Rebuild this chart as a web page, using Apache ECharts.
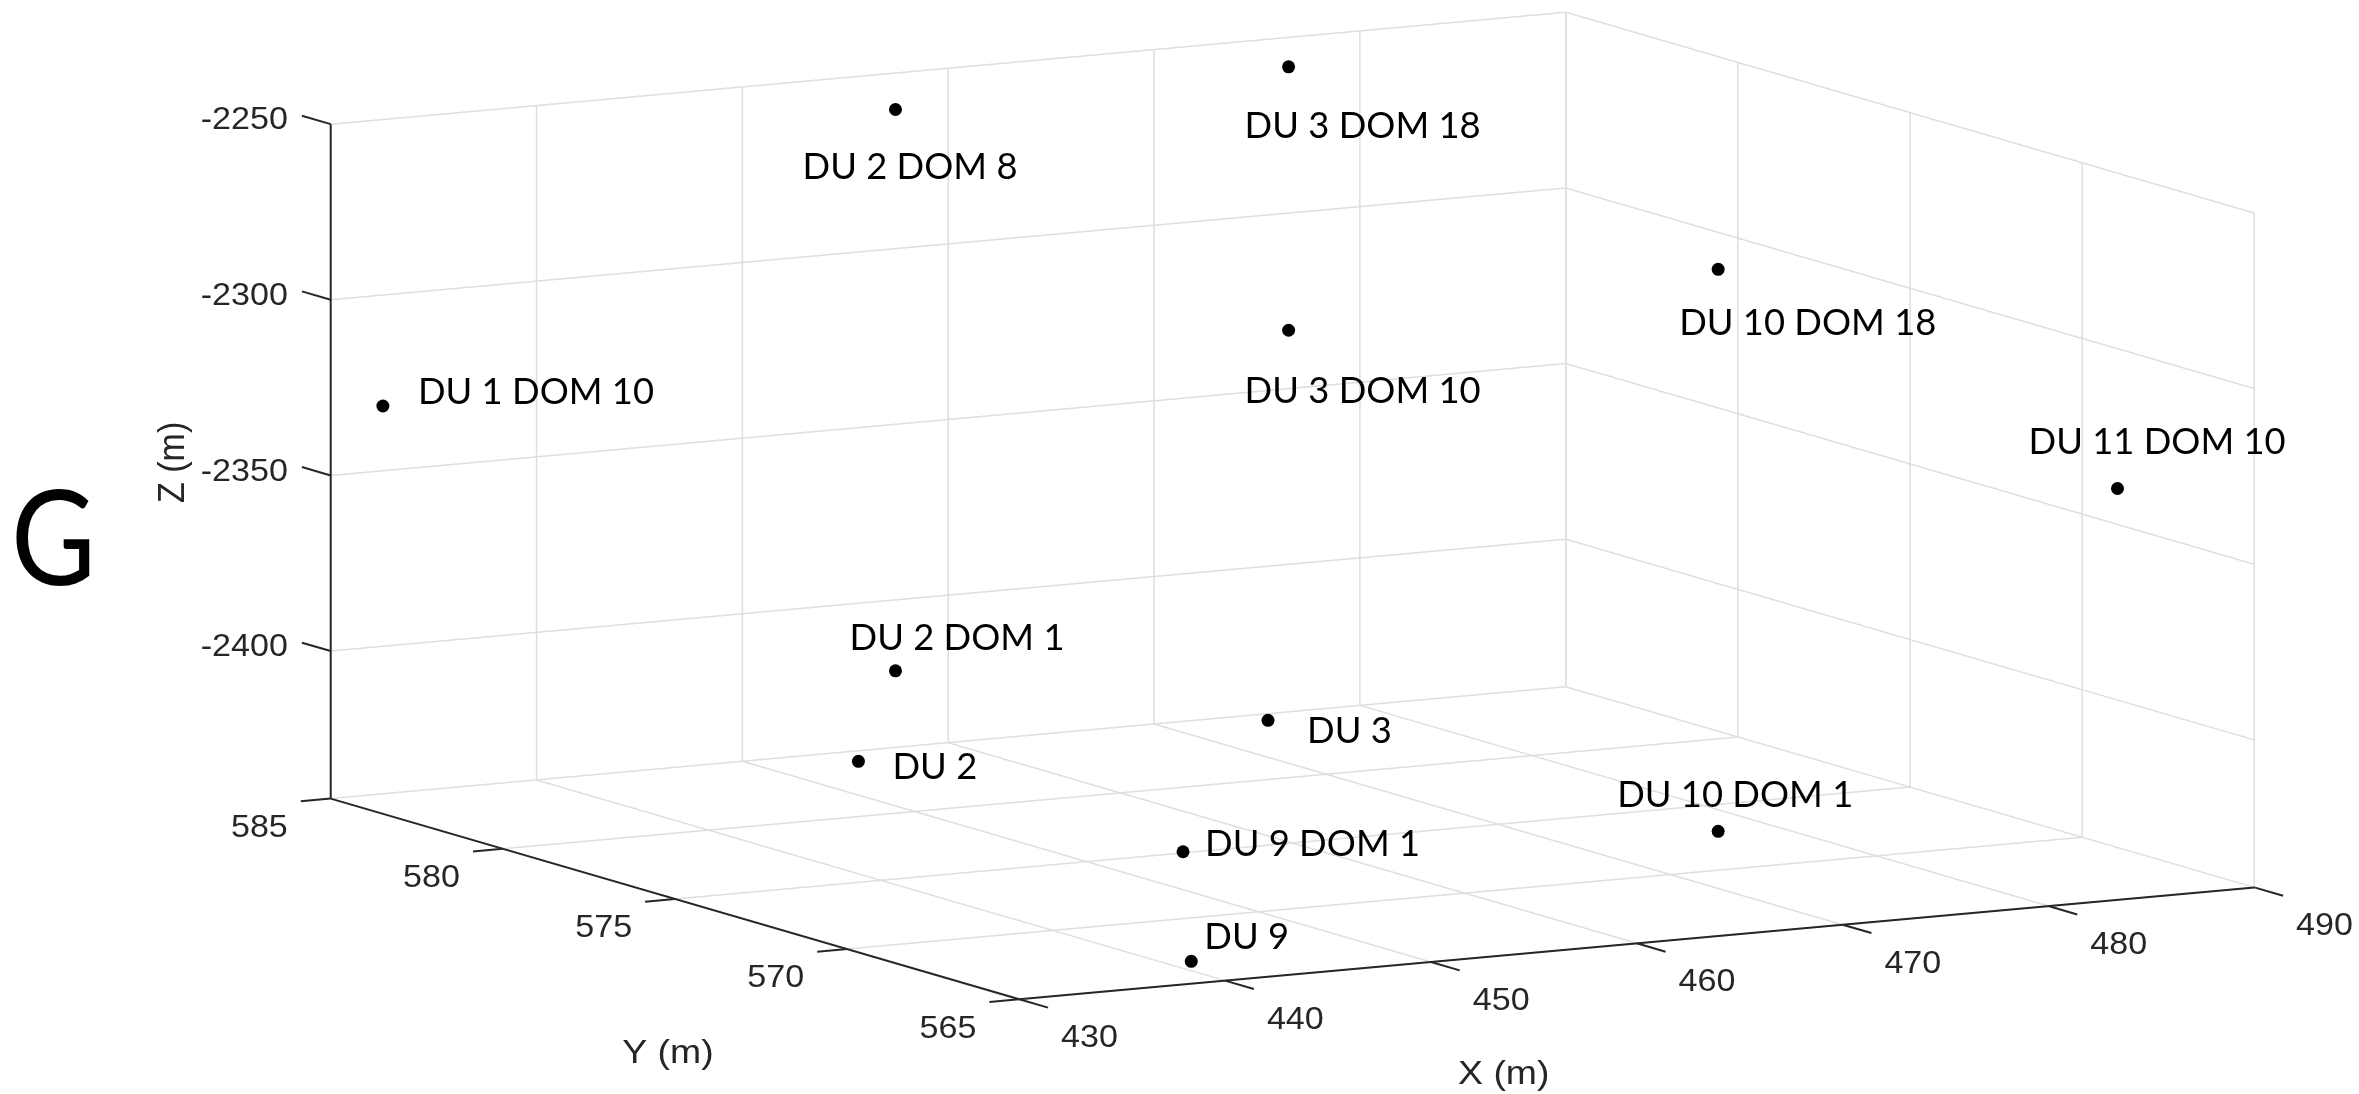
<!DOCTYPE html>
<html>
<head>
<meta charset="utf-8">
<script src="https://cdn.jsdelivr.net/npm/echarts@6/dist/echarts.min.js"></script>
<style>
  html, body { margin: 0; padding: 0; background: #ffffff; }
  #chart { width: 2359px; height: 1094px; }
</style>
</head>
<body>
<div id="chart"></div>
<script>
// Axis limits (metres)
const xLimits = [430, 490];
const yLimits = [565, 585];
const zLimits = [-2442, -2250];

// Tick values
const xTicks = [430, 440, 450, 460, 470, 480, 490];
const yTicks = [565, 570, 575, 580, 585];
const zTicks = [-2400, -2350, -2300, -2250];

// Optical module / DU base positions
const moduleNames = ['DU 1 DOM 10', 'DU 2 DOM 8', 'DU 3 DOM 18', 'DU 3 DOM 10', 'DU 10 DOM 18', 'DU 11 DOM 10',
                     'DU 2 DOM 1', 'DU 2', 'DU 3', 'DU 9 DOM 1', 'DU 9', 'DU 10 DOM 1'];
const moduleX = [431.7, 456.1, 475.7, 475.7, 467.3, 486.7, 456.1, 454.3, 474.7, 440.8, 441.2, 467.3];
const moduleY = [584.5, 584.2, 584.5, 584.5, 567.0, 567.0, 584.2, 584.2, 584.5, 566.7, 566.7, 567.0];
const moduleZ = [-2329.7, -2257.4, -2256.5, -2331.5, -2259.7, -2332.4, -2417.2, -2442.0, -2442.0, -2410.6, -2442.0, -2419.7];

// Label placement relative to each marker (pixels: left edge, vertical centre)
const labelOffsets = [[35, -14], [-93, 58], [-44, 60], [-44, 61], [-39, 54], [-89, -46],
                      [-46, -32], [34, 6], [39, 11], [22, -7], [13, -24], [-101, -36]];

// Orthographic 3-D view
const DEG = Math.PI / 180;
const view = { azimuth: 29.14, elevation: 9.35, boxAspect: [1, 1, 0.4834] };

function project(x, y, z) {
  const nx = (x - xLimits[0]) / (xLimits[1] - xLimits[0]) * view.boxAspect[0];
  const ny = (y - yLimits[0]) / (yLimits[1] - yLimits[0]) * view.boxAspect[1];
  const nz = (z - zLimits[0]) / (zLimits[1] - zLimits[0]) * view.boxAspect[2];
  const a = view.azimuth * DEG, e = view.elevation * DEG;
  return [
    nx * Math.cos(a) - ny * Math.sin(a),
    (nx * Math.sin(a) + ny * Math.cos(a)) * Math.sin(e) + nz * Math.cos(e)
  ];
}

// Extent of the projected box on the view plane
const corners = [];
xLimits.forEach(x => yLimits.forEach(y => zLimits.forEach(z => corners.push(project(x, y, z)))));
const uMin = Math.min(...corners.map(c => c[0])), uMax = Math.max(...corners.map(c => c[0]));
const vMin = Math.min(...corners.map(c => c[1])), vMax = Math.max(...corners.map(c => c[1]));
const pxPerUnit = 1414;

const GRID_COLOR = '#dedede';
const AXIS_COLOR = '#262626';
const TICK_LEN = 30;
const TICK_FONT = 'Liberation Sans, Arial, Helvetica, sans-serif';
const LABEL_FONT = 'Lato, Calibri, sans-serif';

function lineEl(a, b, color, width) {
  return { type: 'line', shape: { x1: a[0], y1: a[1], x2: b[0], y2: b[1] },
           style: { stroke: color, lineWidth: width } };
}
function textEl(p, text, align, opts) {
  return Object.assign({ type: 'text', x: p[0], y: p[1], scaleX: 1.1,
    style: { text: text, fill: AXIS_COLOR, fontSize: 31, fontFamily: TICK_FONT,
             align: align, verticalAlign: 'middle' } }, opts || {});
}
function tickEnd(base, toward) {
  const dx = toward[0] - base[0], dy = toward[1] - base[1];
  const n = Math.hypot(dx, dy);
  return [base[0] + dx / n * TICK_LEN, base[1] + dy / n * TICK_LEN];
}

// Grid lines on the back wall, side wall and floor
function renderGrid(params, api) {
  const P = (x, y, z) => api.coord(project(x, y, z));
  const [x0, x1] = xLimits, [y0, y1] = yLimits, [z0, z1] = zLimits;
  const ch = [];
  xTicks.forEach(xv => {
    ch.push(lineEl(P(xv, y1, z0), P(xv, y1, z1), GRID_COLOR, 1.5));
    ch.push(lineEl(P(xv, y0, z0), P(xv, y1, z0), GRID_COLOR, 1.5));
  });
  yTicks.forEach(yv => {
    ch.push(lineEl(P(x1, yv, z0), P(x1, yv, z1), GRID_COLOR, 1.5));
    ch.push(lineEl(P(x0, yv, z0), P(x1, yv, z0), GRID_COLOR, 1.5));
  });
  zTicks.forEach(zv => {
    ch.push(lineEl(P(x0, y1, zv), P(x1, y1, zv), GRID_COLOR, 1.5));
    ch.push(lineEl(P(x1, y0, zv), P(x1, y1, zv), GRID_COLOR, 1.5));
  });
  return { type: 'group', children: ch };
}

// Axis lines, ticks, tick labels and axis titles
function renderAxes(params, api) {
  const P = (x, y, z) => api.coord(project(x, y, z));
  const [x0, x1] = xLimits, [y0, y1] = yLimits, [z0, z1] = zLimits;
  const ch = [];
  ch.push(lineEl(P(x0, y0, z0), P(x1, y0, z0), AXIS_COLOR, 2));
  ch.push(lineEl(P(x0, y0, z0), P(x0, y1, z0), AXIS_COLOR, 2));
  ch.push(lineEl(P(x0, y1, z0), P(x0, y1, z1), AXIS_COLOR, 2));

  xTicks.forEach(xv => {
    const b = P(xv, y0, z0), e = tickEnd(b, P(xv, y0 - 1, z0));
    ch.push(lineEl(b, e, AXIS_COLOR, 2));
    ch.push(textEl([e[0] + 13, e[1] + 31], String(xv), 'left'));
  });
  yTicks.forEach(yv => {
    const b = P(x0, yv, z0), e = tickEnd(b, P(x0 - 1, yv, z0));
    ch.push(lineEl(b, e, AXIS_COLOR, 2));
    ch.push(textEl([e[0] - 13, e[1] + 27], String(yv), 'right'));
  });
  zTicks.forEach(zv => {
    const b = P(x0, y1, zv), e = tickEnd(b, P(x0, y1 + 1, zv));
    ch.push(lineEl(b, e, AXIS_COLOR, 2));
    ch.push(textEl([e[0] - 14, e[1] + 5], String(zv), 'right'));
  });

  const xm = P((x0 + x1) / 2, y0, z0);
  const ym = P(x0, (y0 + y1) / 2, z0);
  const zm = P(x0, y1, (z0 + z1) / 2);
  const titleStyle = { fontSize: 34 };
  const t1 = textEl([xm[0] - 133, xm[1] + 131], 'X (m)', 'center');
  const t2 = textEl([ym[0] - 7, ym[1] + 155], 'Y (m)', 'center');
  const t3 = textEl([zm[0] - 157, zm[1] + 1], 'Z (m)', 'center', { rotation: Math.PI / 2, scaleX: 1, scaleY: 1.1 });
  [t1, t2, t3].forEach(t => { Object.assign(t.style, titleStyle); ch.push(t); });
  return { type: 'group', children: ch };
}

// Module markers with their names
function renderModules(params, api) {
  const c = api.coord([api.value(0), api.value(1)]);
  const i = api.value(2);
  const off = labelOffsets[i];
  return {
    type: 'group',
    children: [
      { type: 'circle', shape: { cx: c[0], cy: c[1], r: 6.5 }, style: { fill: '#000000' } },
      { type: 'text', x: c[0] + off[0], y: c[1] + off[1], scaleX: 1.01,
        style: { text: moduleNames[i], fill: '#000000', fontSize: 36, fontFamily: LABEL_FONT,
                 align: 'left', verticalAlign: 'middle' } }
    ]
  };
}

const moduleData = moduleNames.map((n, i) => {
  const p = project(moduleX[i], moduleY[i], moduleZ[i]);
  return [p[0], p[1], i];
});

const chart = echarts.init(document.getElementById('chart'), null, { renderer: 'canvas', width: 2359, height: 1094 });
chart.setOption({
  animation: false,
  backgroundColor: '#ffffff',
  grid: {
    left: 330.7, top: 12.3,
    width: pxPerUnit * (uMax - uMin), height: pxPerUnit * (vMax - vMin),
    containLabel: false, outerBoundsMode: 'none'
  },
  xAxis: { type: 'value', min: uMin, max: uMax, show: false },
  yAxis: { type: 'value', min: vMin, max: vMax, show: false },
  graphic: [{
    type: 'text', left: 11, top: 476, scaleX: 0.88,
    style: { text: 'G', fontSize: 132, fontFamily: LABEL_FONT, fill: '#000000' }
  }],
  series: [
    { type: 'custom', name: 'grid', renderItem: renderGrid, data: [[0, 0]], clip: false, silent: true, z: 1 },
    { type: 'custom', name: 'axes', renderItem: renderAxes, data: [[0, 0]], clip: false, silent: true, z: 2 },
    { type: 'custom', name: 'modules', renderItem: renderModules, data: moduleData,
      encode: { x: 0, y: 1 }, clip: false, silent: true, z: 3 }
  ]
});
</script>
</body>
</html>
